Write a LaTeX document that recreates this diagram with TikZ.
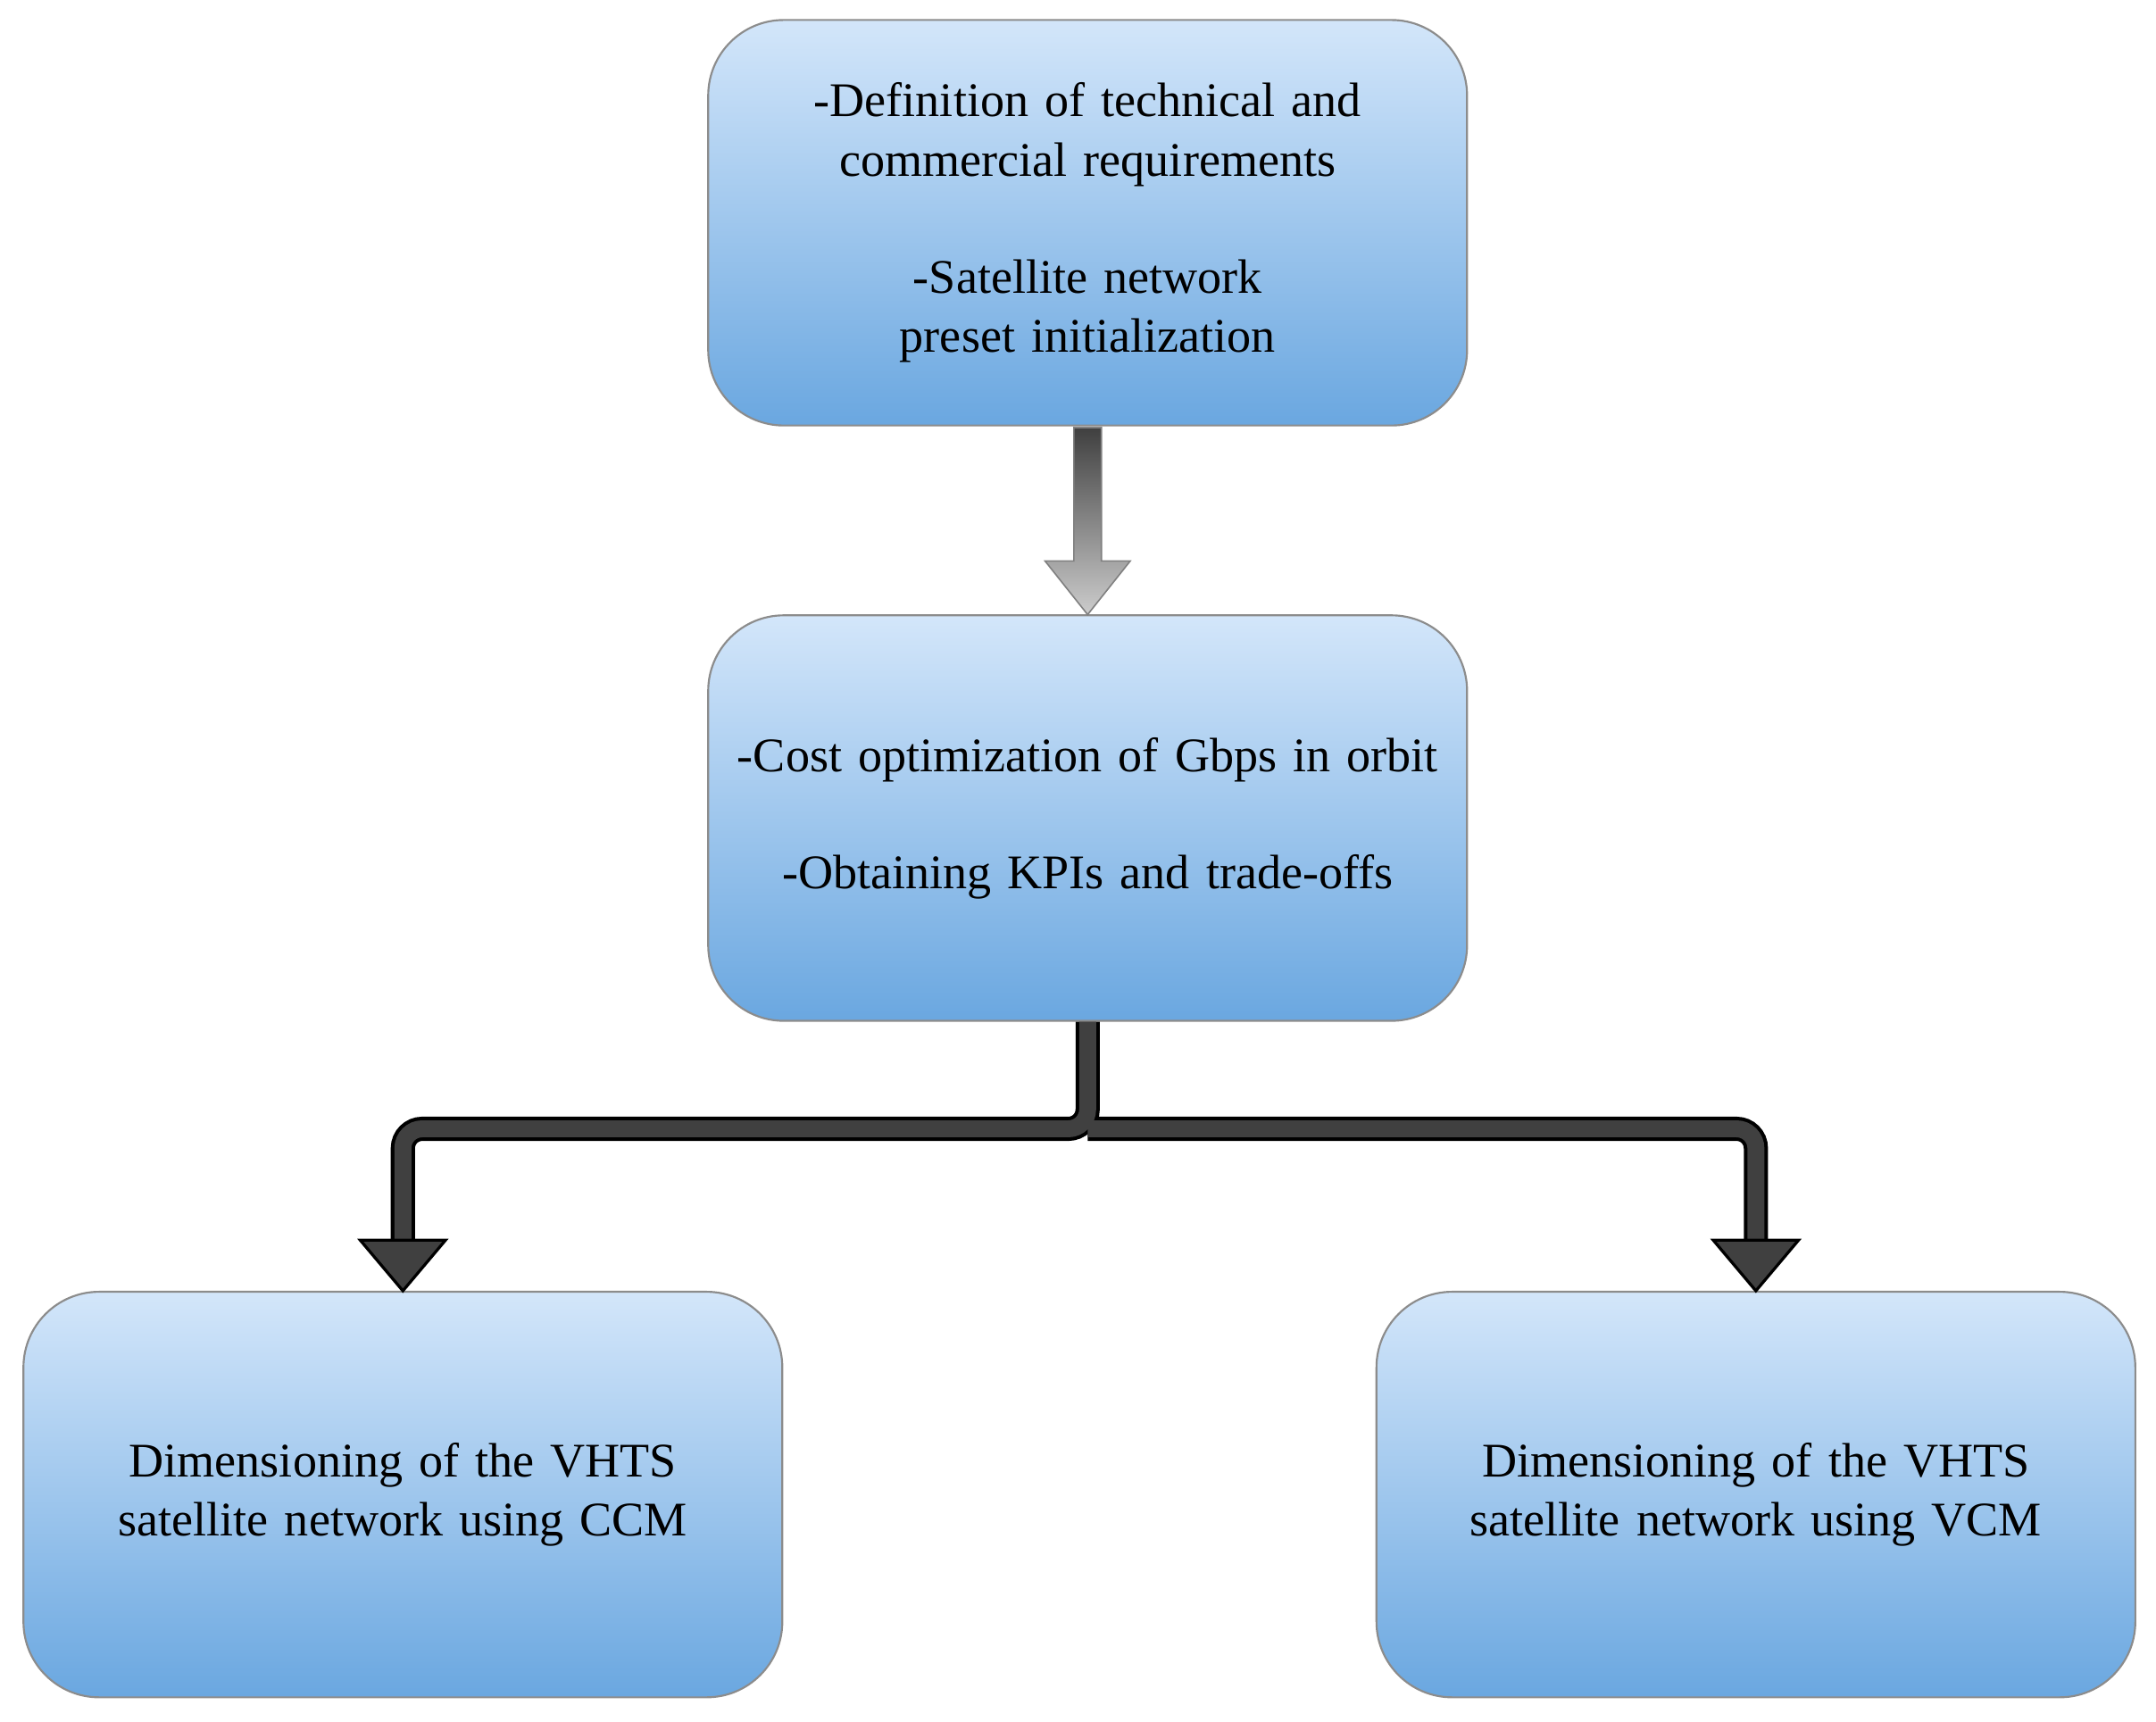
\documentclass[tikz,border=0pt]{standalone}
\usepackage{fontspec}
\setmainfont{Liberation Serif}
\usetikzlibrary{positioning}
\begin{document}
\begin{tikzpicture}[x=0.02cm,y=-0.02cm,
 box/.style={draw=black!45,line width=0.8pt,rounded corners=1.1cm,top color=blue!10!cyan!8!white,bottom color=blue!45!cyan!40!white,
   minimum width=11.04cm,minimum height=5.9cm,align=center,font=\fontsize{20}{24.5}\selectfont,text width=10.6cm},
 conn/.style={line width=18\pgflinewidth},
]
\useasboundingbox (0,0) rectangle (1568,1252);
\definecolor{bt}{HTML}{D3E6FA}\definecolor{bb}{HTML}{6AA7E0}
\tikzset{box/.append style={top color=bt,bottom color=bb}}
\node[box] (a) at (791,162) {-Definition of technical and commercial requirements\\[24pt]-Satellite network preset initialization};
\node[box] (b) at (791,595) {-Cost optimization of Gbps in orbit\\[24pt]-Obtaining KPIs and trade-offs};
\node[box] (c) at (293,1087) {Dimensioning of the VHTS satellite network using CCM};
\node[box] (d) at (1277,1087) {Dimensioning of the VHTS satellite network using VCM};
% gray arrow
\shade[top color=black!75,bottom color=black!20,draw=black!50,line width=0.6pt]
 (781,311) -- (801,311) -- (801,408) -- (822,408) -- (791,447) -- (760,408) -- (781,408) -- cycle;
% branching dark arrow
\coordinate (m) at (791,821);
\coordinate (l) at (293,821);
\coordinate (r) at (1277,821);
\coordinate (lh) at (293,902);
\coordinate (rh) at (1277,902);
\draw[line width=10pt,black,rounded corners=8pt] (b.south) -- (m) -- (l) -- (lh);
\draw[line width=10pt,black,rounded corners=8pt] (m) -- (r) -- (rh);
\draw[line width=7pt,black!75,rounded corners=8pt] (b.south) -- (m) -- (l) -- (lh);
\draw[line width=7pt,black!75,rounded corners=8pt] (m) -- (r) -- (rh);
\fill[black!75,draw=black,line width=1.2pt] (262,902) -- (324,902) -- (c.north) -- cycle;
\fill[black!75,draw=black,line width=1.2pt] (1246,902) -- (1308,902) -- (d.north) -- cycle;
\end{tikzpicture}
\end{document}
